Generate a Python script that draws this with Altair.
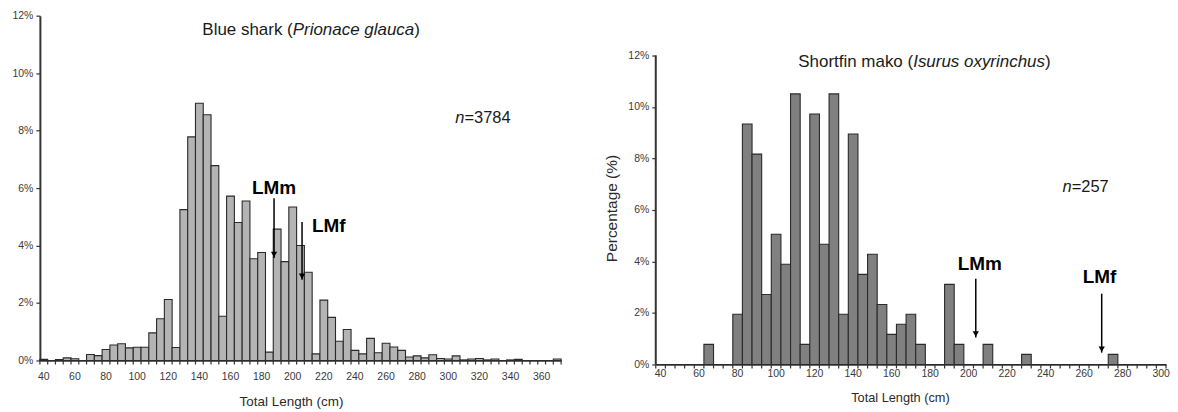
import altair as alt
import pandas as pd

# ---------------- data ----------------
blue_len = list(range(40, 375, 5))          # bin centres (cm), 40..370
blue_pct = [0.04, 0.0, 0.03, 0.09, 0.06, 0.0, 0.21, 0.17, 0.38, 0.54,
            0.58, 0.44, 0.46, 0.46, 0.96, 1.45, 2.12, 0.45, 5.25, 7.78,
            8.95, 8.55, 6.78, 1.54, 5.72, 4.80, 5.55, 3.54, 3.76, 0.29,
            4.57, 3.44, 5.34, 4.00, 3.07, 0.23, 2.10, 1.50, 0.67, 1.08,
            0.35, 0.23, 0.77, 0.27, 0.60, 0.47, 0.35, 0.12, 0.16, 0.09,
            0.20, 0.07, 0.05, 0.16, 0.02, 0.05, 0.07, 0.02, 0.05, 0.0,
            0.02, 0.04, 0.0, 0.0, 0.0, 0.0, 0.05]
blue_ticks = [40, 60, 80, 100, 120, 140, 160, 180, 200, 220, 240, 260,
              280, 300, 320, 340, 360]

mako_len = list(range(40, 305, 5))          # bin centres (cm), 40..300
mako_pct = [0, 0, 0, 0, 0, 0.78, 0, 0, 1.95, 9.34,
            8.17, 2.72, 5.06, 3.89, 10.51, 0.78, 9.73, 4.67, 10.51, 1.95,
            8.95, 3.50, 4.28, 2.33, 1.17, 1.56, 1.95, 0.78, 0, 0,
            3.11, 0.78, 0, 0, 0.78, 0, 0, 0, 0.39, 0,
            0, 0, 0, 0, 0, 0, 0, 0.39, 0, 0,
            0, 0, 0]
mako_ticks = [40, 60, 80, 100, 120, 140, 160, 180, 200, 220, 240, 260,
              280, 300]

pct_ticks = [0, 2, 4, 6, 8, 10, 12]

lm_labels = ["LMm", "LMf"]
blue_lm_len = [188, 206]
mako_lm_len = [203.7, 269.1]

FONT = "Liberation Sans"
BIN = 5


def txt(text, x, y, size, style="normal", weight="normal", align="left"):
    return alt.Chart(pd.DataFrame({"t": [text]})).mark_text(
        font=FONT, fontSize=size, fontStyle=style, fontWeight=weight,
        align=align, baseline="alphabetic", color="#1a1a1a"
    ).encode(x=alt.value(x), y=alt.value(y), text="t:N")


def panel(cats, pct, ticks, width, height, ymax, fill, lm_x, lm_top, lm_tip,
          lab_x, lab_y, lab_align, texts, ytitle, ext, titlex, titley,
          xtitle_size, lab_pad, ydomain):
    df = pd.DataFrame({"c": cats, "pct": pct})
    df["x0"] = df["c"] - BIN / 2
    df["x1"] = df["c"] + BIN / 2
    df["zero"] = 0.0
    lo, hi = cats[0] - BIN / 2, cats[-1] + BIN / 2
    xs = alt.Scale(domain=[lo, hi], nice=False, zero=False)
    ys = alt.Scale(domain=[0, ymax], nice=False, zero=True)
    bounds = pd.DataFrame({"b": [lo] + list(df["x1"])})

    xaxis = alt.Axis(
        labels=False, ticks=False, grid=False,
        domainColor="#333", domainWidth=1.8,
        title="Total Length  (cm)", titleFont=FONT, titleFontSize=xtitle_size,
        titleFontWeight="normal", titleColor="#2a2a2a",
        titleX=titlex, titleY=titley, titleBaseline="alphabetic")

    yargs = dict(values=pct_ticks, labelExpr="datum.value + '%'",
                 tickSize=4, tickColor="#333", tickWidth=1.2, grid=False,
                 domain=ydomain, domainColor="#333", domainWidth=2,
                 labelFontSize=10.5, labelColor="#3a3a3a", labelFont=FONT,
                 labelPadding=3, minExtent=ext, maxExtent=ext)
    if ytitle:
        yargs.update(title=ytitle, titleFont=FONT, titleFontSize=15.5,
                     titleFontWeight="normal", titleColor="#2a2a2a",
                     titleX=-44, titleY=193,
                     titleBaseline="middle", titleAlign="center")
    else:
        yargs.update(title="")
    yaxis = alt.Axis(**yargs)

    bars = alt.Chart(df).mark_bar(fill=fill, stroke="#2a2a2a", strokeWidth=1.1).encode(
        x=alt.X("x0:Q", scale=xs, axis=xaxis),
        x2="x1:Q",
        y=alt.Y("pct:Q", scale=ys, axis=yaxis),
        y2="zero:Q",
    )

    tk = alt.Chart(bounds).mark_rule(color="#333", strokeWidth=1.2).encode(
        x=alt.X("b:Q", scale=xs), y=alt.value(height), y2=alt.value(height + 4))

    tl = alt.Chart(pd.DataFrame({"v": ticks})).mark_text(
        font=FONT, fontSize=10.5, color="#3a3a3a", baseline="top", align="center"
    ).encode(x=alt.X("v:Q", scale=xs), y=alt.value(height + lab_pad),
             text=alt.Text("v:Q", format="d"))

    layers = [bars, tk, tl]
    if not ydomain:
        yl = alt.Chart(pd.DataFrame({"a": [0], "b": [12]})).mark_rule(
            color="#333", strokeWidth=2).encode(
            x=alt.value(0), y=alt.Y("a:Q", scale=ys), y2="b:Q")
        layers.append(yl)

    adf = pd.DataFrame({"lab": lm_labels, "x": lm_x, "top": lm_top, "tip": lm_tip,
                        "lx": lab_x, "ly": lab_y})
    shaft = alt.Chart(adf).mark_rule(color="#000", strokeWidth=1.5).encode(
        x=alt.X("x:Q", scale=xs),
        y=alt.Y("top:Q", scale=ys), y2="tip:Q")
    head = alt.Chart(adf).mark_point(shape="triangle-down", filled=True, size=40,
                                     color="#000", opacity=1, yOffset=-3.5).encode(
        x=alt.X("x:Q", scale=xs),
        y=alt.Y("tip:Q", scale=ys))
    layers += [shaft, head]
    for i, a in enumerate(lab_align):
        one = adf.iloc[[i]]
        layers.append(alt.Chart(one).mark_text(
            font=FONT, fontSize=19, fontWeight="bold", align=a,
            baseline="alphabetic", color="#000").encode(
            x=alt.X("lx:Q", scale=xs),
            y=alt.Y("ly:Q", scale=ys), text="lab:N"))
    layers += texts
    return alt.layer(*layers).properties(width=width, height=height)


left = panel(
    blue_len, blue_pct, blue_ticks, 523, 346, 12, "#b4b4b4",
    blue_lm_len, [5.65, 4.82], [3.57, 2.81],
    [188, 212.4], [5.79, 4.47], ["center", "left"],
    [txt("Blue shark (", 163, 19, 17),
     txt("Prionace glauca", 253.7, 19, 17, style="italic"),
     txt(")", 375.6, 19, 17),
     txt("n", 426, 107.7, 16.5, style="italic", align="right"),
     txt("=3784", 426, 107.7, 16.5)],
    None, 27, 252, 45, 13.5, 12, True)

right = panel(
    mako_len, mako_pct, mako_ticks, 512, 350, 13.548, "#808080",
    mako_lm_len, [3.33, 2.75], [1.05, 0.46],
    [205.8, 268.0], [3.68, 3.17], ["center", "center"],
    [txt("Shortfin mako (", 143, 52, 17),
     txt("Isurus oxyrinchus", 258.3, 52, 17, style="italic"),
     txt(")", 390.6, 52, 17),
     txt("n", 417.3, 176.7, 16.5, style="italic", align="right"),
     txt("=257", 417.3, 176.7, 16.5)],
    "Percentage (%)", 55, 245, 37, 12.8, 5, False)

chart = alt.hconcat(left, right, spacing=39).properties(
    padding={"left": 3, "top": 2, "right": 0, "bottom": 0}
).configure(font=FONT).configure_view(stroke=None)

chart.save("out.html", embed_options={"renderer": "svg", "actions": False})
